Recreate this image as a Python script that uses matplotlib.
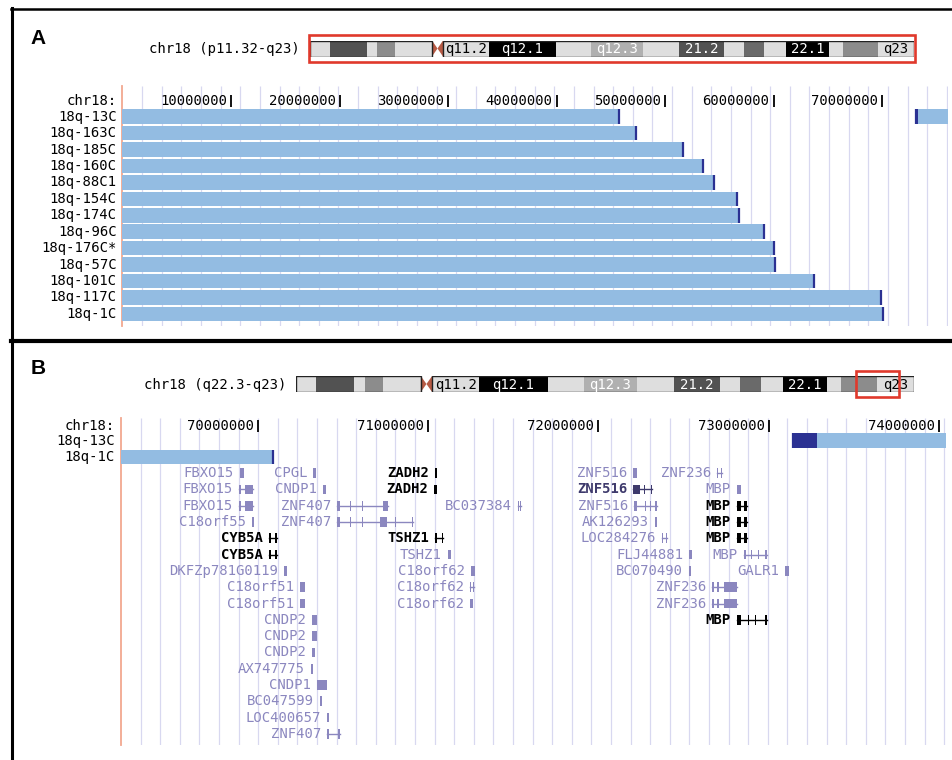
import numpy as np
import matplotlib.pyplot as plt
from matplotlib.patches import Rectangle, Polygon
from matplotlib.lines import Line2D

# chr18 (hg18) length and cytobands, in Mb
chr_len = 76.117
band_start = [0.0, 2.520, 7.183, 8.443, 10.712, 15.375, 16.761, 22.558, 31.001, 35.412,
              41.965, 46.502, 52.173, 54.693, 57.214, 59.986, 65.405, 67.170, 71.580]
band_stain = ['gneg', 'gpos75', 'gneg', 'gpos50', 'gneg', 'acen', 'gneg', 'gpos100', 'gneg', 'gpos25',
              'gneg', 'gpos75', 'gneg', 'gpos66', 'gneg', 'gpos100', 'gneg', 'gpos50', 'gneg']
band_name = ['', '', '', '', '', '', 'q11.2', 'q12.1', '', 'q12.3',
             '', '21.2', '', '', '', '22.1', '', '', 'q23']

# retained 18q segment of each tumour (from pter), Mb
samples = ['18q-13C', '18q-163C', '18q-185C', '18q-160C', '18q-88C1', '18q-154C', '18q-174C',
           '18q-96C', '18q-176C*', '18q-57C', '18q-101C', '18q-117C', '18q-1C']
retained_end = [45.80, 47.30, 51.70, 53.50, 54.50, 56.60, 56.80, 59.10, 60.00, 60.10, 63.70, 69.90, 70.088]
# 18q-13C also keeps a distal piece
distal_sample = '18q-13C'
distal_start = 73.141
distal_dark_end = 73.282

# zoomed window of panel B
win_b = (69.193, 74.043)
samples_b = ['18q-13C', '18q-1C']

# UCSC known genes in the window: (row, name, kind, exons in Mb)
genes = [
    (2, 'FBXO15', 'light', [(69.892, 69.916)]),
    (2, 'CPGL', 'light', [(70.322, 70.338)]),
    (2, 'ZADH2', 'black', [(71.039, 71.051)]),
    (2, 'ZNF516', 'light', [(72.203, 72.227)]),
    (2, 'ZNF236', 'light', [(72.697, 72.705), (72.718, 72.726)]),
    (3, 'FBXO15', 'light', [(69.887, 69.898), (69.922, 69.969)]),
    (3, 'CNDP1', 'light', [(70.380, 70.398)]),
    (3, 'ZADH2', 'black', [(71.033, 71.051)]),
    (3, 'ZNF516', 'dark', [(72.203, 72.244), (72.268, 72.273), (72.309, 72.315)]),
    (3, 'MBP', 'light', [(72.814, 72.838)]),
    (4, 'FBXO15', 'light', [(69.887, 69.898), (69.922, 69.969)]),
    (4, 'ZNF407', 'light', [(70.463, 70.480), (70.539, 70.545), (70.610, 70.616), (70.733, 70.762)]),
    (4, 'BC037384', 'light', [(71.527, 71.533), (71.538, 71.544)]),
    (4, 'ZNF516', 'light', [(72.209, 72.226), (72.273, 72.279), (72.303, 72.309), (72.332, 72.344)]),
    (4, 'MBP', 'black', [(72.814, 72.838), (72.855, 72.873)]),
    (5, 'C18orf55', 'light', [(69.963, 69.975)]),
    (5, 'ZNF407', 'light', [(70.463, 70.480), (70.539, 70.545), (70.610, 70.616), (70.715, 70.757),
                            (70.804, 70.810), (70.904, 70.909)]),
    (5, 'AK126293', 'light', [(72.332, 72.344)]),
    (5, 'MBP', 'black', [(72.814, 72.838), (72.855, 72.873)]),
    (6, 'CYB5A', 'black', [(70.063, 70.075), (70.098, 70.110)]),
    (6, 'TSHZ1', 'black', [(71.039, 71.051), (71.080, 71.086)]),
    (6, 'LOC284276', 'light', [(72.373, 72.379), (72.397, 72.403)]),
    (6, 'MBP', 'black', [(72.814, 72.838), (72.855, 72.873)]),
    (7, 'CYB5A', 'black', [(70.063, 70.075), (70.098, 70.110)]),
    (7, 'TSHZ1', 'light', [(71.115, 71.133)]),
    (7, 'FLJ44881', 'light', [(72.532, 72.550)]),
    (7, 'MBP', 'light', [(72.855, 72.867), (72.897, 72.902), (72.938, 72.944), (72.979, 72.991)]),
    (8, 'DKFZp781G0119', 'light', [(70.151, 70.169)]),
    (8, 'C18orf62', 'light', [(71.251, 71.274)]),
    (8, 'BC070490', 'light', [(72.532, 72.544)]),
    (8, 'GALR1', 'light', [(73.096, 73.120)]),
    (9, 'C18orf51', 'light', [(70.245, 70.275)]),
    (9, 'C18orf62', 'light', [(71.245, 71.251), (71.262, 71.268)]),
    (9, 'ZNF236', 'light', [(72.667, 72.679), (72.697, 72.708), (72.738, 72.814)]),
    (10, 'C18orf51', 'light', [(70.245, 70.275)]),
    (10, 'C18orf62', 'light', [(71.245, 71.262)]),
    (10, 'ZNF236', 'light', [(72.667, 72.679), (72.697, 72.708), (72.738, 72.814)]),
    (11, 'CNDP2', 'light', [(70.316, 70.345)]),
    (11, 'MBP', 'black', [(72.814, 72.838), (72.879, 72.885), (72.920, 72.926), (72.979, 72.991)]),
    (12, 'CNDP2', 'light', [(70.316, 70.345)]),
    (13, 'CNDP2', 'light', [(70.316, 70.333)]),
    (14, 'AX747775', 'light', [(70.310, 70.322)]),
    (15, 'CNDP1', 'light', [(70.345, 70.404)]),
    (16, 'BC047599', 'light', [(70.363, 70.375)]),
    (17, 'LOC400657', 'light', [(70.404, 70.416)]),
    (18, 'ZNF407', 'light', [(70.404, 70.416), (70.469, 70.480)]),
]

ticks_a = [10, 20, 30, 40, 50, 60, 70]
ticks_b = [70, 71, 72, 73, 74]

W, H = 952, 760
plt.rcParams['font.family'] = ['DejaVu Sans Mono', 'DejaVu Sans']
fig = plt.figure(figsize=(W / 100, H / 100), dpi=100)

stain_color = {'gneg': '#dedede', 'gpos25': '#b0b0b0', 'gpos50': '#8c8c8c', 'gpos66': '#6a6a6a',
               'gpos75': '#525252', 'gpos100': '#000000'}
cen_color = '#b65a44'
red = '#e0392c'
bar_light = '#93bce2'
bar_dark = '#2b3192'
grid_color = '#d8d8f0'
orange = '#f2a890'
gene_color = {'light': '#8b87bf', 'dark': '#3e3a6c', 'black': '#000000'}
fs = 10


def px_axes(x0, y0, x1, y1):
    return fig.add_axes([x0 / W, 1 - y1 / H, (x1 - x0) / W, (y1 - y0) / H])


def draw_ideogram(x0, x1, y0, y1, win):
    ax = px_axes(x0, y0, x1, y1)
    ax.set_xlim(0, chr_len)
    ax.set_ylim(0, 1)
    ax.axis('off')
    ends = band_start[1:] + [chr_len]
    cen = (0, 0)
    for s, e, st, nm in zip(band_start, ends, band_stain, band_name):
        if st == 'acen':
            m = (s + e) / 2
            ax.add_patch(Polygon([(s, 1), (s, 0), (m, 0.5)], color=cen_color, lw=0))
            ax.add_patch(Polygon([(e, 1), (e, 0), (m, 0.5)], color=cen_color, lw=0))
            cen = (s, e)
            continue
        ax.barh(0.5, e - s, left=s, height=1, color=stain_color[st], lw=0)
        if nm:
            tc = 'white' if st in ('gpos25', 'gpos75', 'gpos100') else 'black'
            ax.text((s + e) / 2, 0.45, nm, ha='center', va='center', color=tc,
                    fontsize=10, clip_on=False)
    ax.add_patch(Rectangle((0, 0), cen[0], 1, fill=False, ec='#222222', lw=1))
    ax.add_patch(Rectangle((cen[1], 0), chr_len - cen[1], 1, fill=False, ec='#222222', lw=1))
    pad = 1.5 * chr_len / (x1 - x0)
    ax.add_patch(Rectangle((win[0] - pad, -0.34), win[1] - win[0] + 2 * pad, 1.68,
                           fill=False, ec=red, lw=1.9, clip_on=False))


def draw_tracks(x0, x1, y0, y1, row0, rowpx, xlim, grid_step, ruler_row, ticks):
    ax = px_axes(x0, y0, x1, y1)
    ax.set_xlim(*xlim)
    bot, top = (y1 - row0) / rowpx, (y0 - row0) / rowpx
    ax.set_ylim(bot, top)
    ax.axis('off')
    grid = np.arange(xlim[0] + grid_step, xlim[1], grid_step)
    ax.vlines(grid, top, bot, color=grid_color, lw=0.9, zorder=0)
    ax.axvline(xlim[0], color=orange, lw=1.3, clip_on=False)
    for t in ticks:
        ax.vlines(t, ruler_row - 0.36, ruler_row + 0.36, color='black', lw=1.3)
        ax.annotate(f'{int(round(t * 1e6))}', (t, ruler_row), xytext=(-4, 0),
                    textcoords='offset pixels', ha='right', va='center', fontsize=fs)
    ax.annotate('chr18:', (xlim[0], ruler_row), xytext=(-6, 0), textcoords='offset pixels',
                ha='right', va='center', fontsize=fs)
    return ax


def draw_samples(ax, names, xlim):
    for r, nm in enumerate(names):
        i = samples.index(nm)
        end = retained_end[i]
        ax.barh(r, end, left=0, height=0.88, color=bar_light, lw=0, zorder=2)
        ax.vlines(end, r - 0.44, r + 0.44, color=bar_dark, lw=1.6, zorder=3)
        if nm == distal_sample:
            ax.barh(r, chr_len - distal_start, left=distal_start, height=0.88,
                    color=bar_light, lw=0, zorder=2)
            ax.barh(r, distal_dark_end - distal_start, left=distal_start, height=0.88,
                    color=bar_dark, lw=0, zorder=3)
            ax.vlines(distal_start, r - 0.44, r + 0.44, color=bar_dark, lw=1.6, zorder=3)
        ax.annotate(nm, (xlim[0], r), xytext=(-6, 0), textcoords='offset pixels',
                    ha='right', va='center', fontsize=fs)


# panel A
draw_ideogram(310, 914, 40.5, 56.5, (0, chr_len))
fig.text(300 / W, 1 - 49 / H, 'chr18 (p11.32-q23)', ha='right', va='center', fontsize=fs)
xlim_a = (0, chr_len)
ax_a = draw_tracks(122.5, 948.4, 86, 326, 116.7, 16.43, xlim_a, 1.8088, -0.94, ticks_a)
draw_samples(ax_a, samples, xlim_a)

# panel B
draw_ideogram(296, 914, 376, 392, win_b)
fig.text(286 / W, 1 - 385 / H, 'chr18 (q22.3-q23)', ha='right', va='center', fontsize=fs)
ax_b = draw_tracks(121, 946, 418, 745, 440.5, 16.3, win_b, 0.11523, -0.87, ticks_b)
draw_samples(ax_b, samples_b, win_b)

for row, name, kind, exons in genes:
    c = gene_color[kind]
    s, e = exons[0][0], exons[-1][1]
    if len(exons) > 1:
        ax_b.plot([s, e], [row, row], color=c, lw=1, zorder=2)
    for a, b in exons:
        ax_b.add_patch(Rectangle((a, row - 0.3), b - a, 0.6, color=c, lw=0, zorder=3))
    ax_b.annotate(name, (s, row), xytext=(-6, 0), textcoords='offset pixels', ha='right',
                  va='center', fontsize=fs, color=c,
                  fontweight='bold' if kind != 'light' else 'normal')

# panel letters and frame
fig.text(38 / W, 1 - 38 / H, 'A', ha='center', va='center', fontsize=15,
         fontweight='bold', family='Liberation Sans')
fig.text(38 / W, 1 - 369 / H, 'B', ha='center', va='center', fontsize=15,
         fontweight='bold', family='Liberation Sans')
fig.add_artist(Line2D([11 / W, 1], [1 - 9 / H, 1 - 9 / H], color='black', lw=1.8))
fig.add_artist(Line2D([12 / W, 12 / W], [0, 1 - 8 / H], color='black', lw=2.2))
fig.add_artist(Line2D([11 / W, 1], [1 - 340.5 / H, 1 - 340.5 / H], color='black', lw=3))

fig.savefig('out.png', dpi=100, facecolor='white')
